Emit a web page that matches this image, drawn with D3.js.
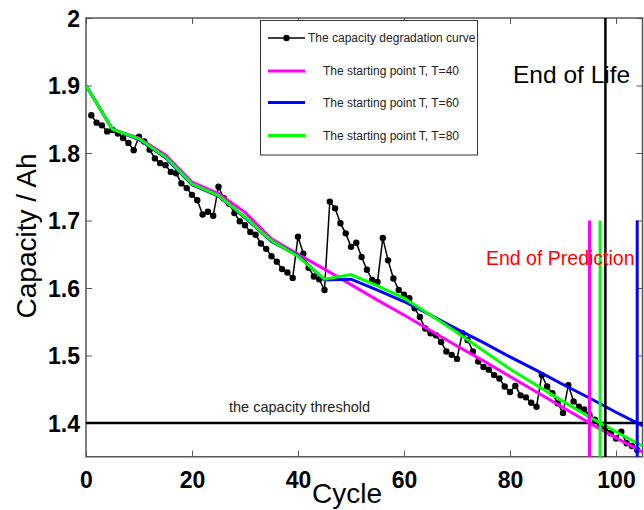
<!DOCTYPE html>
<html lang="en">
<head>
    <meta charset="UTF-8">
    <title>Capacity degradation</title>
    <style>
        body { margin: 0; background: #fff; }
        svg { display: block; font-family: "Liberation Sans", Arial, sans-serif; }
        .tick-labels text { font-size: 23px; font-weight: bold; fill: #000; }
    </style>
</head>
<body>
<div id="chart"></div>
<script src="https://d3js.org/d3.v7.min.js"></script>
<script>
    // measured capacity, cycles 1..104
    const capacity = [
        1.856, 1.845, 1.841, 1.832, 1.834, 1.829, 1.822, 1.815, 1.804, 1.824,
        1.817, 1.805, 1.792, 1.785, 1.782, 1.772, 1.770, 1.755, 1.748, 1.738,
        1.730, 1.709, 1.713, 1.707, 1.750, 1.733, 1.725, 1.711, 1.699, 1.693,
        1.683, 1.679, 1.666, 1.658, 1.647, 1.639, 1.628, 1.623, 1.615, 1.676,
        1.651, 1.630, 1.617, 1.613, 1.597, 1.728, 1.718, 1.696, 1.681, 1.661,
        1.667, 1.646, 1.627, 1.612, 1.609, 1.674, 1.641, 1.614, 1.597, 1.590,
        1.585, 1.570, 1.557, 1.540, 1.533, 1.530, 1.520, 1.506, 1.501, 1.495,
        1.533, 1.523, 1.506, 1.491, 1.483, 1.479, 1.471, 1.466, 1.454, 1.446,
        1.455, 1.441, 1.438, 1.430, 1.424, 1.471, 1.454, 1.444, 1.429, 1.415,
        1.456, 1.432, 1.424, 1.420, 1.412, 1.405, 1.398, 1.392, 1.385, 1.377,
        1.387, 1.370, 1.366, 1.360
    ];

    // predicted curves, sampled every 5 cycles
    const predCycles = [0, 5, 10, 15, 20, 25, 30, 35, 40, 45, 50, 55, 60, 65, 70, 75, 80, 85, 90, 95, 100, 105];
    const predT40 = [1.900, 1.835, 1.822, 1.797, 1.757, 1.740, 1.712, 1.673, 1.650, 1.628, 1.605, 1.582, 1.560, 1.537, 1.514, 1.492, 1.469, 1.446, 1.423, 1.400, 1.378, 1.357];
    const predT60 = [1.900, 1.835, 1.820, 1.793, 1.753, 1.736, 1.704, 1.669, 1.648, 1.612, 1.613, 1.597, 1.580, 1.560, 1.539, 1.519, 1.498, 1.478, 1.457, 1.437, 1.416, 1.396];
    const predT80 = [1.900, 1.835, 1.821, 1.794, 1.754, 1.737, 1.705, 1.670, 1.647, 1.613, 1.620, 1.603, 1.585, 1.560, 1.534, 1.507, 1.480, 1.456, 1.432, 1.409, 1.387, 1.366];

    const seriesNames = ["The starting point T, T=40", "The starting point T, T=60", "The starting point T, T=80"];
    const seriesColors = ["#ff00ff", "#0000ff", "#00ff00"];
    const endOfPrediction = [95, 104, 97];   // cycle where each prediction hits threshold
    const endOfLife = 98;
    const threshold = 1.4;

    const xTicks = [0, 20, 40, 60, 80, 100];
    const yTicks = [1.4, 1.5, 1.6, 1.7, 1.8, 1.9, 2];
    const yTickLabels = ["1.4", "1.5", "1.6", "1.7", "1.8", "1.9", "2"];

    const svg = d3.select("#chart").append("svg")
        .attr("width", 644)
        .attr("height", 510);

    const x = d3.scaleLinear().domain([0, 105]).range([86, 642.5]),
          y = d3.scaleLinear().domain([1.35, 2]).range([456.75, 18]);

    const line = d3.line()
        .x(d => x(d[0]))
        .y(d => y(d[1]));

    // axes with inward ticks on all four sides
    const frameColor = "#555";
    const bottom = svg.append("g")
        .attr("class", "tick-labels")
        .attr("transform", "translate(0," + y(1.35) + ")")
        .call(d3.axisBottom(x).tickValues(xTicks).tickSizeInner(-6).tickSizeOuter(0).tickPadding(15));
    const left = svg.append("g")
        .attr("class", "tick-labels")
        .attr("transform", "translate(" + x(0) + ",0)")
        .call(d3.axisLeft(y).tickValues(yTicks).tickSizeInner(-6).tickSizeOuter(0).tickPadding(6)
            .tickFormat((d, i) => yTickLabels[i]));
    svg.append("g")
        .attr("transform", "translate(0," + y(2) + ")")
        .call(d3.axisTop(x).tickValues(xTicks).tickSizeInner(-6).tickSizeOuter(0).tickFormat(""));
    svg.append("g")
        .attr("transform", "translate(" + x(105) + ",0)")
        .call(d3.axisRight(y).tickValues(yTicks).tickSizeInner(-6).tickSizeOuter(0).tickFormat(""));
    svg.selectAll(".domain").remove();
    svg.selectAll(".tick line").attr("stroke", frameColor);
    left.selectAll(".tick text").attr("dy", "0.36em");

    svg.append("rect")
        .attr("x", x(0)).attr("y", y(2))
        .attr("width", x(105) - x(0)).attr("height", y(1.35) - y(2))
        .attr("fill", "none")
        .attr("stroke", frameColor)
        .attr("stroke-width", 1.5);

    // threshold and end of life
    svg.append("line")
        .attr("x1", x(0)).attr("x2", x(105))
        .attr("y1", y(threshold)).attr("y2", y(threshold))
        .attr("stroke", "#000").attr("stroke-width", 2.5);

    svg.append("text")
        .attr("x", 229).attr("y", y(threshold) - 11)
        .style("font-size", "14.5px").style("fill", "#222")
        .text("the capacity threshold");

    // black degradation curve
    const measured = capacity.map((v, i) => [i + 1, v]);
    svg.append("path")
        .datum(measured)
        .attr("d", line)
        .attr("fill", "none")
        .attr("stroke", "#000")
        .attr("stroke-width", 1.5);
    svg.selectAll(".dot")
        .data(measured)
        .enter().append("circle")
        .attr("class", "dot")
        .attr("cx", d => x(d[0]))
        .attr("cy", d => y(d[1]))
        .attr("r", 3.2)
        .attr("fill", "#000");

    // predictions
    [predT40, predT60, predT80].forEach((vals, i) => {
        svg.append("path")
            .datum(predCycles.map((c, j) => [c, vals[j]]))
            .attr("d", line)
            .attr("fill", "none")
            .attr("stroke", seriesColors[i])
            .attr("stroke-width", 3);
    });

    endOfPrediction.forEach((c, i) => {
        svg.append("line")
            .attr("x1", x(c)).attr("x2", x(c))
            .attr("y1", y(1.7)).attr("y2", y(1.35))
            .attr("stroke", seriesColors[i]).attr("stroke-width", 3);
    });

    svg.append("line")
        .attr("x1", x(endOfLife)).attr("x2", x(endOfLife))
        .attr("y1", y(2)).attr("y2", y(1.35))
        .attr("stroke", "#000").attr("stroke-width", 2.5);

    svg.append("text")
        .attr("x", 513).attr("y", 83)
        .style("font-size", "24.5px").style("fill", "#000")
        .text("End of Life");

    svg.append("text")
        .attr("x", 486).attr("y", 265)
        .style("font-size", "19.5px").style("fill", "#ff0000")
        .text("End of Prediction");

    // axis titles
    svg.append("text")
        .attr("transform", "translate(36,236) rotate(-90)")
        .attr("text-anchor", "middle")
        .style("font-size", "28px")
        .text("Capacity / Ah");

    svg.append("text")
        .attr("x", 347).attr("y", 503)
        .attr("text-anchor", "middle")
        .style("font-size", "28px")
        .text("Cycle");

    // legend
    const legend = svg.append("g");
    legend.append("rect")
        .attr("x", 260.5).attr("y", 20.5)
        .attr("width", 217).attr("height", 134.5)
        .attr("fill", "#fff")
        .attr("stroke", "#333");

    const legendY = [38, 71, 102.5, 135.5];
    legend.append("line")
        .attr("x1", 268).attr("x2", 305)
        .attr("y1", legendY[0]).attr("y2", legendY[0])
        .attr("stroke", "#000").attr("stroke-width", 1.5);
    legend.append("circle")
        .attr("cx", 286.5).attr("cy", legendY[0]).attr("r", 3.2).attr("fill", "#000");
    legend.append("text")
        .attr("x", 308).attr("y", legendY[0]).attr("dy", "0.35em")
        .style("font-size", "12px").style("fill", "#222")
        .text("The capacity degradation curve");

    seriesNames.forEach((name, i) => {
        const ly = legendY[i + 1];
        legend.append("line")
            .attr("x1", 268).attr("x2", 305)
            .attr("y1", ly).attr("y2", ly)
            .attr("stroke", seriesColors[i]).attr("stroke-width", 3);
        legend.append("text")
            .attr("x", 323).attr("y", ly).attr("dy", "0.35em")
            .style("font-size", "12px").style("fill", "#222")
            .text(name);
    });
</script>
</body>
</html>
